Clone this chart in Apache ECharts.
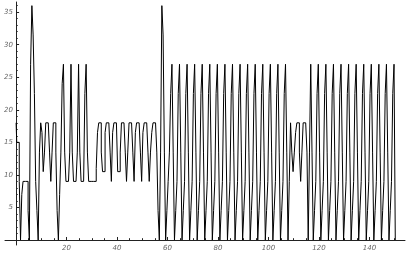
<!DOCTYPE html>
<html><head><meta charset="utf-8">
<script src="https://cdn.jsdelivr.net/npm/echarts@6/dist/echarts.min.js"></script>
<style>html,body{margin:0;padding:0;background:#fff}#c{width:410px;height:253px}</style>
</head><body><div id="c"></div>
<script>
// sequence sampled every half unit on the x axis
const sampleStep = 0.5;
const leadValues = [
  18, 15, 15, 9, 0, 7, 9, 9, 9, 9, 4.5, 0,
  27, 36, 31.5, 22.5, 9, 4.5, 0, 13.5, 18, 16.5, 10.5, 13.5,
  18, 18, 18, 13.5, 9, 13.5, 18, 18, 13.5, 4.5, 0, 7,
  13.5, 24, 27, 13.5, 9, 9, 9, 13.5, 27, 13.5, 9, 9,
  9, 13.5, 27, 13.5, 9, 9, 9, 22.5, 27, 13.5, 9, 9,
  9, 9, 9, 9, 11, 16.5, 18, 18, 13.5, 10.5, 10.5, 16.5,
  18, 18, 18, 13.5, 9, 16.5, 18, 18, 18, 10.5, 10.5, 13.5,
  18, 18, 18, 13.5, 9, 13.5, 18, 18, 18, 13.5, 9, 16.5,
  18, 18, 18, 13.5, 9, 16.5, 18, 18, 18, 13.5, 9, 13.5,
  16.5, 18, 18, 18, 13.5, 4.5, 0, 13.5, 36, 31.5, 13.5, 0,
  4.5, 9, 13.5, 22.5
];
const periodicA = [
  27, 13.5, 0, 4.5, 9, 22.5,
  27, 13.5, 0, 4.5, 9, 22.5,
  27, 13.5, 0, 4.5, 9, 22.5,
  27, 13.5, 0, 4.5, 9, 22.5,
  27, 13.5, 0, 4.5, 9, 22.5,
  27, 13.5, 0, 4.5, 9, 22.5,
  27, 13.5, 0, 4.5, 9, 22.5,
  27, 13.5, 0, 4.5, 9, 22.5,
  27, 13.5, 0, 4.5, 9, 22.5,
  27, 13.5, 0, 4.5, 9, 22.5,
  27, 13.5, 0, 4.5, 9, 22.5,
  27, 13.5, 0, 4.5, 9, 22.5,
  27, 13.5, 0, 4.5, 9, 22.5,
  27, 13.5, 0, 4.5, 9, 22.5,
  27, 13.5, 0, 4.5, 9, 22.5
];
const middleValues = [
  27, 13.5, 0, 9, 18, 13.5, 10.5, 13.5, 16.5, 18,
  18, 13.5, 9, 13.5, 18, 18, 18, 13.5, 0, 13.5
];
const periodicB = [
  27, 13.5, 0, 4.5, 9, 22.5,
  27, 13.5, 0, 4.5, 9, 22.5,
  27, 13.5, 0, 4.5, 9, 22.5,
  27, 13.5, 0, 4.5, 9, 22.5,
  27, 13.5, 0, 4.5, 9, 22.5,
  27, 13.5, 0, 4.5, 9, 22.5,
  27, 13.5, 0, 4.5, 9, 22.5,
  27, 13.5, 0, 4.5, 9, 22.5,
  27, 13.5, 0, 4.5, 9, 22.5,
  27, 13.5, 0, 4.5, 9, 22.5,
  27, 13.5, 0, 4.5, 9, 22.5
];
const tailValues = [27, 0];

const xMajorTicks = [20, 40, 60, 80, 100, 120, 140];
const xMinorTicks = [5, 10, 15, 25, 30, 35, 45, 50, 55, 65, 70, 75, 85, 90, 95, 105, 110, 115, 125, 130, 135, 145, 150];
const yMajorTicks = [5, 10, 15, 20, 25, 30, 35];
const yMinorTicks = [1, 2, 3, 4, 6, 7, 8, 9, 11, 12, 13, 14, 16, 17, 18, 19, 21, 22, 23, 24, 26, 27, 28, 29, 31, 32, 33, 34, 36];

const allValues = leadValues.concat(periodicA, middleValues, periodicB, tailValues);
const points = allValues.map((v, i) => [i * sampleStep, v]);

const X_MIN = -4.4, X_MAX = 154.1, Y_MIN = -0.77, Y_MAX = 36.56;
const axisColor = '#222';
const labelStyle = { fontSize: 7, color: '#666', fontStyle: 'italic', fontFamily: 'DejaVu Sans' };

const chart = echarts.init(document.getElementById('c'), null, { renderer: 'canvas' });
chart.setOption({
  animation: false,
  grid: { left: 5, right: 5, top: 2, bottom: 8, containLabel: false, outerBoundsMode: 'none' },
  xAxis: [
    {
      type: 'value', min: X_MIN, max: X_MAX, position: 'bottom',
      axisLine: { onZero: true, lineStyle: { color: axisColor, width: 1 } },
      axisTick: { inside: true, length: 3, customValues: xMajorTicks, lineStyle: { color: axisColor } },
      axisLabel: Object.assign({ customValues: xMajorTicks, margin: -0.5 }, labelStyle),
      splitLine: { show: false }
    },
    {
      type: 'value', min: X_MIN, max: X_MAX, position: 'bottom',
      axisLine: { onZero: true, lineStyle: { color: axisColor, opacity: 0 } },
      axisTick: { inside: true, length: 1.8, customValues: xMinorTicks, lineStyle: { color: axisColor } },
      axisLabel: { show: false },
      splitLine: { show: false }
    }
  ],
  yAxis: [
    {
      type: 'value', min: Y_MIN, max: Y_MAX, position: 'left',
      axisLine: { onZero: true, lineStyle: { color: axisColor, width: 1 } },
      axisTick: { inside: true, length: 3, customValues: yMajorTicks, lineStyle: { color: axisColor } },
      axisLabel: Object.assign({ customValues: yMajorTicks, margin: -8 }, labelStyle),
      splitLine: { show: false }
    },
    {
      type: 'value', min: Y_MIN, max: Y_MAX, position: 'left',
      axisLine: { onZero: true, lineStyle: { color: axisColor, opacity: 0 } },
      axisTick: { inside: true, length: 1.6, customValues: yMinorTicks, lineStyle: { color: axisColor } },
      axisLabel: { show: false },
      splitLine: { show: false }
    }
  ],
  series: [{
    type: 'line', xAxisIndex: 0, yAxisIndex: 0, data: points, step: 'middle',
    symbol: 'none', lineStyle: { color: '#000', width: 1 }
  }]
});
</script></body></html>
